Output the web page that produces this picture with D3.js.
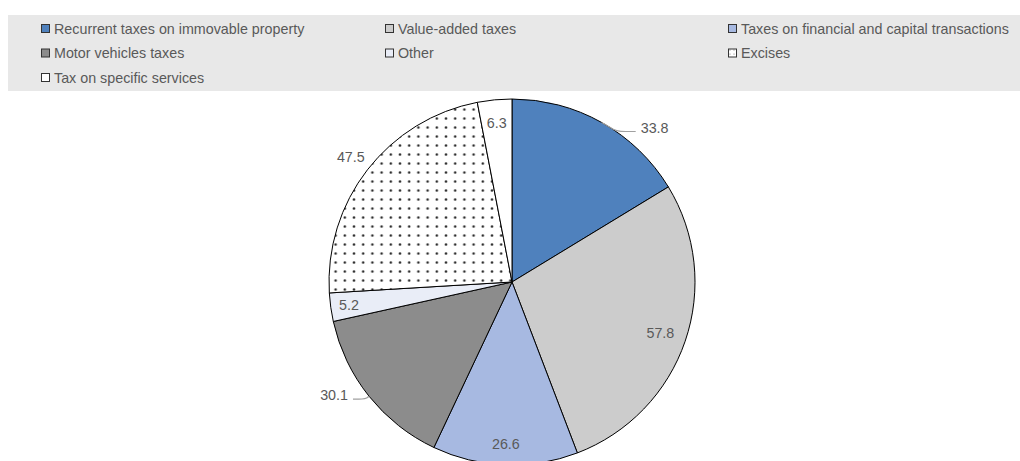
<!DOCTYPE html>
<html>
<head>
<meta charset="utf-8">
<script src="https://cdn.jsdelivr.net/npm/d3@7"></script>
<style>
  html, body { margin: 0; padding: 0; background: #ffffff; }
  svg { display: block; font-family: "Liberation Sans", Arial, sans-serif; }
</style>
</head>
<body>
<svg id="chart" width="1020" height="461"></svg>
<script>
// Tax revenue composition
const categories = [
  "Recurrent taxes on immovable property",
  "Value-added taxes",
  "Taxes on financial and capital transactions",
  "Motor vehicles taxes",
  "Other",
  "Excises",
  "Tax on specific services"
];
const values = [33.8, 57.8, 26.6, 30.1, 5.2, 47.5, 6.3];
const valueLabels = ["33.8", "57.8", "26.6", "30.1", "5.2", "47.5", "6.3"];

// Fill for each slice; "dots" means the dotted pattern
const fills = ["#4f81bd", "#cccccc", "#a7b9e1", "#8c8c8c", "#e9edf7", "dots", "#ffffff"];

const svg = d3.select("#chart");
const W = 1020, H = 461;
const textColor = "#595959";
const fontSize = 14.3;

// Dotted pattern
const defs = svg.append("defs");
const pat = defs.append("pattern")
  .attr("id", "dots")
  .attr("patternUnits", "userSpaceOnUse")
  .attr("width", 9.2).attr("height", 9)
  .attr("x", 3).attr("y", 3);
pat.append("rect").attr("width", 9.2).attr("height", 9).attr("fill", "#ffffff");
pat.append("circle").attr("cx", 4.6).attr("cy", 4.5).attr("r", 1.5).attr("fill", "#9a9a9a");
pat.append("circle").attr("cx", 4.6).attr("cy", 4.5).attr("r", 0.9).attr("fill", "#222222");

const smallPat = defs.append("pattern")
  .attr("id", "dotsSmall")
  .attr("patternUnits", "userSpaceOnUse")
  .attr("width", 4).attr("height", 4);
smallPat.append("rect").attr("width", 4).attr("height", 4).attr("fill", "#ffffff");
smallPat.append("circle").attr("cx", 2).attr("cy", 2).attr("r", 0.6).attr("fill", "#777");

const fillOf = (i, small) => fills[i] === "dots" ? (small ? "url(#dotsSmall)" : "url(#dots)") : fills[i];

// ---- Legend ----
const legend = svg.append("g");
legend.append("rect")
  .attr("x", 8).attr("y", 15).attr("width", W - 8).attr("height", 76)
  .attr("fill", "#e8e8e8");

const colX = d3.scaleOrdinal().domain([0, 1, 2]).range([41, 385, 728]);
const rowY = d3.scalePoint().domain([0, 1, 2]).range([28.5, 77.5]);

categories.forEach((name, i) => {
  const col = i % 3, row = Math.floor(i / 3);
  const x = colX(col), y = rowY(row);
  const g = legend.append("g");
  g.append("rect")
    .attr("x", x + 0.5).attr("y", y - 4)
    .attr("width", 8).attr("height", 8)
    .attr("fill", fillOf(i, true))
    .attr("stroke", "#333333").attr("stroke-width", 1);
  g.append("text")
    .attr("x", x + 13).attr("y", y)
    .attr("dy", "0.35em")
    .attr("fill", textColor)
    .attr("font-size", fontSize)
    .text(name);
});

// ---- Pie ----
const cx = 512, cy = 282, R = 183;
const pie = d3.pie().sort(null).value(d => d)(values);
const arc = d3.arc().innerRadius(0).outerRadius(R);

const gPie = svg.append("g").attr("transform", `translate(${cx},${cy})`);
gPie.selectAll("path.slice")
  .data(pie)
  .join("path")
  .attr("class", "slice")
  .attr("d", arc)
  .attr("fill", (d, i) => fillOf(i, false))
  .attr("stroke", "#000000")
  .attr("stroke-width", 1)
  .attr("stroke-linejoin", "round");

// Label placement: inside labels sit on a ring, outside labels get a leader line
const placement = [
  { mode: "leader", dx: 39, dy: 5, anchor: "start" },
  { mode: "inside", k: 0.857 },
  { mode: "inside", k: 0.885 },
  { mode: "leader", dx: -21, dy: -1, anchor: "end" },
  { mode: "inside", k: 0.9 },
  { mode: "outside", k: 1.115 },
  { mode: "inside", k: 0.875 }
];

const polar = (a, r) => [r * Math.sin(a), -r * Math.cos(a)];

pie.forEach((d, i) => {
  const mid = (d.startAngle + d.endAngle) / 2;
  const p = placement[i];
  if (p.mode === "leader") {
    const [sx, sy] = polar(mid, R);
    const tx = sx + p.dx, ty = sy + p.dy;
    const dir = p.anchor === "start" ? 1 : -1;
    const endX = tx - dir * 5, endY = ty + 4;
    const elbowX = endX - dir * (Math.abs(p.dx) > 30 ? 17 : 10);
    gPie.append("path")
      .attr("d", d3.line().curve(d3.curveBasis)([[sx, sy], [elbowX - dir * 4, endY - 1], [elbowX, endY], [endX, endY]]))
      .attr("fill", "none")
      .attr("stroke", "#a0a0a0")
      .attr("stroke-width", 1.2);
    gPie.append("text")
      .attr("x", tx).attr("y", ty)
      .attr("dy", "0.35em")
      .attr("text-anchor", p.anchor)
      .attr("fill", textColor)
      .attr("font-size", fontSize)
      .text(valueLabels[i]);
  } else {
    const [x, y] = polar(mid, R * p.k);
    gPie.append("text")
      .attr("x", x).attr("y", y)
      .attr("dy", "0.35em")
      .attr("text-anchor", "middle")
      .attr("fill", textColor)
      .attr("font-size", fontSize)
      .text(valueLabels[i]);
  }
});
</script>
</body>
</html>
